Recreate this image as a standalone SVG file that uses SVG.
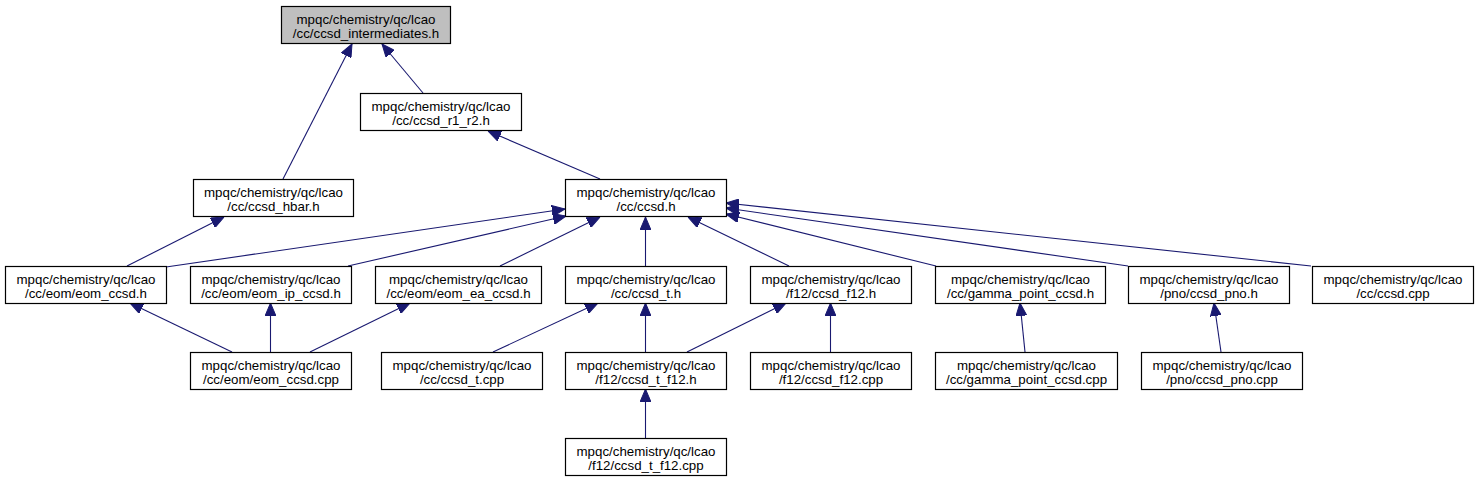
<svg xmlns="http://www.w3.org/2000/svg" width="1478" height="483" viewBox="0 0 1478 483">
<defs>
<marker id="ah" markerUnits="userSpaceOnUse" markerWidth="13" markerHeight="11" viewBox="0 0 13 11" refX="13" refY="5.5" orient="auto">
<path d="M0,0 L13,5.5 L0,11 Z" fill="#191970" stroke="#191970" stroke-width="1"/>
</marker>
</defs>
<style>
.n rect{fill:#fff;stroke:#000;stroke-width:1.2}
.n.cur rect{fill:#bfbfbf}
.n text{font-family:"Liberation Sans",Arial,Helvetica,sans-serif;font-size:13.3px;fill:#000;text-anchor:middle}
#edges line{stroke:#191970;stroke-width:1.1;marker-end:url(#ah)}
</style>
<rect width="1478" height="483" fill="#fff"/>
<g id="edges">
<line x1="283" y1="179" x2="352" y2="44"/>
<line x1="423" y1="93" x2="382" y2="44"/>
<line x1="600" y1="179" x2="488" y2="131"/>
<line x1="127" y1="266" x2="224" y2="217"/>
<line x1="166" y1="267" x2="565" y2="209"/>
<line x1="348" y1="266" x2="566" y2="216"/>
<line x1="500" y1="266" x2="600" y2="217"/>
<line x1="645.5" y1="266" x2="645.5" y2="217"/>
<line x1="789" y1="266" x2="688" y2="217"/>
<line x1="936" y1="266" x2="726" y2="214"/>
<line x1="1128" y1="266" x2="726" y2="208"/>
<line x1="1311" y1="266" x2="726" y2="203"/>
<line x1="232" y1="352" x2="130" y2="303"/>
<line x1="270.5" y1="352" x2="270.5" y2="303"/>
<line x1="310" y1="352" x2="410" y2="303"/>
<line x1="493" y1="352" x2="598" y2="303"/>
<line x1="645.5" y1="352" x2="645.5" y2="303"/>
<line x1="687" y1="352" x2="786" y2="303"/>
<line x1="830.5" y1="352" x2="830.5" y2="303"/>
<line x1="1025" y1="352" x2="1020" y2="303"/>
<line x1="1221" y1="352" x2="1214" y2="303"/>
<line x1="645.5" y1="438" x2="645.5" y2="389"/>
</g>
<g id="n_top" class="n cur"><rect x="281.5" y="6.5" width="169" height="37"/><text x="366" y="24">mpqc/chemistry/qc/lcao</text><text x="366" y="37.5">/cc/ccsd_intermediates.h</text></g>
<g id="n_r1r2" class="n"><rect x="360.5" y="93.5" width="161" height="37"/><text x="441" y="111">mpqc/chemistry/qc/lcao</text><text x="441" y="124.5">/cc/ccsd_r1_r2.h</text></g>
<g id="n_hbar" class="n"><rect x="193.5" y="179.5" width="160" height="37"/><text x="273.5" y="197">mpqc/chemistry/qc/lcao</text><text x="273.5" y="210.5">/cc/ccsd_hbar.h</text></g>
<g id="n_ccsd_h" class="n"><rect x="565.5" y="179.5" width="161" height="37"/><text x="646" y="197">mpqc/chemistry/qc/lcao</text><text x="646" y="210.5">/cc/ccsd.h</text></g>
<g id="n_eom_ccsd_h" class="n"><rect x="5.5" y="266.5" width="161" height="37"/><text x="86" y="284">mpqc/chemistry/qc/lcao</text><text x="86" y="297.5">/cc/eom/eom_ccsd.h</text></g>
<g id="n_eom_ip" class="n"><rect x="190.5" y="266.5" width="161" height="37"/><text x="271" y="284">mpqc/chemistry/qc/lcao</text><text x="271" y="297.5">/cc/eom/eom_ip_ccsd.h</text></g>
<g id="n_eom_ea" class="n"><rect x="375.5" y="266.5" width="166" height="37"/><text x="458.5" y="284">mpqc/chemistry/qc/lcao</text><text x="458.5" y="297.5">/cc/eom/eom_ea_ccsd.h</text></g>
<g id="n_ccsd_t_h" class="n"><rect x="565.5" y="266.5" width="161" height="37"/><text x="646" y="284">mpqc/chemistry/qc/lcao</text><text x="646" y="297.5">/cc/ccsd_t.h</text></g>
<g id="n_ccsd_f12_h" class="n"><rect x="750.5" y="266.5" width="161" height="37"/><text x="831" y="284">mpqc/chemistry/qc/lcao</text><text x="831" y="297.5">/f12/ccsd_f12.h</text></g>
<g id="n_gamma_h" class="n"><rect x="935.5" y="266.5" width="170" height="37"/><text x="1020.5" y="284">mpqc/chemistry/qc/lcao</text><text x="1020.5" y="297.5">/cc/gamma_point_ccsd.h</text></g>
<g id="n_pno_h" class="n"><rect x="1128.5" y="266.5" width="161" height="37"/><text x="1209" y="284">mpqc/chemistry/qc/lcao</text><text x="1209" y="297.5">/pno/ccsd_pno.h</text></g>
<g id="n_ccsd_cpp" class="n"><rect x="1312.5" y="266.5" width="161" height="37"/><text x="1393" y="284">mpqc/chemistry/qc/lcao</text><text x="1393" y="297.5">/cc/ccsd.cpp</text></g>
<g id="n_eom_ccsd_cpp" class="n"><rect x="190.5" y="352.5" width="161" height="37"/><text x="271" y="370">mpqc/chemistry/qc/lcao</text><text x="271" y="383.5">/cc/eom/eom_ccsd.cpp</text></g>
<g id="n_ccsd_t_cpp" class="n"><rect x="381.5" y="352.5" width="161" height="37"/><text x="462" y="370">mpqc/chemistry/qc/lcao</text><text x="462" y="383.5">/cc/ccsd_t.cpp</text></g>
<g id="n_ccsd_t_f12_h" class="n"><rect x="565.5" y="352.5" width="161" height="37"/><text x="646" y="370">mpqc/chemistry/qc/lcao</text><text x="646" y="383.5">/f12/ccsd_t_f12.h</text></g>
<g id="n_ccsd_f12_cpp" class="n"><rect x="750.5" y="352.5" width="161" height="37"/><text x="831" y="370">mpqc/chemistry/qc/lcao</text><text x="831" y="383.5">/f12/ccsd_f12.cpp</text></g>
<g id="n_gamma_cpp" class="n"><rect x="935.5" y="352.5" width="182" height="37"/><text x="1026.5" y="370">mpqc/chemistry/qc/lcao</text><text x="1026.5" y="383.5">/cc/gamma_point_ccsd.cpp</text></g>
<g id="n_pno_cpp" class="n"><rect x="1141.5" y="352.5" width="161" height="37"/><text x="1222" y="370">mpqc/chemistry/qc/lcao</text><text x="1222" y="383.5">/pno/ccsd_pno.cpp</text></g>
<g id="n_ccsd_t_f12_cpp" class="n"><rect x="565.5" y="438.5" width="161" height="37"/><text x="646" y="456">mpqc/chemistry/qc/lcao</text><text x="646" y="469.5">/f12/ccsd_t_f12.cpp</text></g>
</svg>
